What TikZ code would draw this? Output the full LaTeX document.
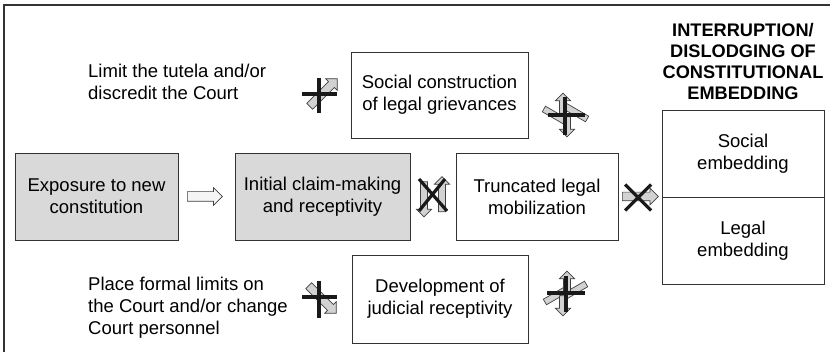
\documentclass[tikz,border=0pt]{standalone}
\usepackage{fontspec}
\setmainfont{Liberation Sans}
\usetikzlibrary{shapes.arrows,positioning}

\tikzset{
  box/.style={draw=black!80, line width=0.9pt, outer sep=0pt, minimum width=#1, minimum height=87pt, align=center, inner sep=2pt},
  box/.default=165pt,
  shaded/.style={fill=gray!30},
  fat/.style={single arrow, draw=black!75, fill=gray!35, line width=0.7pt, inner xsep=0pt, inner ysep=3.2pt, single arrow head extend=4pt},
  band/.style={rectangle, draw=black!75, fill=gray!35, line width=0.7pt, inner sep=0pt, minimum height=6.4pt},
  veto/.style={line width=3.2pt, black!90},
  lbl/.style={align=left, anchor=west, inner sep=0pt}
}

\begin{document}
\begin{tikzpicture}[x=1pt,y=-1pt,font=\fontsize{18.5}{22}\selectfont]
                \useasboundingbox (0,0) rectangle (830,352);
                \draw[black!80, line width=1.2pt] (830,5) -| (4,352);
                \node[box=163pt, shaded] (exp) at (96.5,196.5) {Exposure to new\\constitution};
                \node[box=175pt, shaded] (init) at (322.5,196.5) {Initial claim-making\\and receptivity};
                \node[box=162pt] (trunc) at (537,196.5) {Truncated legal\\mobilization};
                \node[box=177pt, minimum height=86pt] (soc) at (439.5,95) {Social construction\\of legal grievances};
                \node[box=176pt, minimum height=88pt] (jud) at (440,299) {Development of\\judicial receptivity};
                \node[box=162pt] (semb) at (743,153.5) {Social\\embedding};
                \node[box=162pt, below=0pt of semb] (lemb) {Legal\\embedding};
                \node[font=\bfseries\fontsize{18.2}{21}\selectfont, align=center] (head) at (743,61.5) {INTERRUPTION/\\DISLODGING OF\\CONSTITUTIONAL\\EMBEDDING};
                \node[lbl] (lim) at (88,82) {Limit the tutela and/or\\discredit the Court};
                \node[lbl] (plc) at (88,308) {Place formal limits on\\the Court and/or change\\Court personnel};
                \node[fat, fill=gray!8, minimum height=35pt, inner ysep=4.5pt, right=9pt of exp] (e2i) {};
                \node[fat, minimum height=36pt, inner ysep=4pt, right=4pt of trunc] (t2e) {};
                \node[fat, rotate=-90, minimum height=35pt] (dn) at (424,197.5) {};
                \node[fat, rotate=90, minimum height=35pt] (up) at (442,196) {};
                \node[fat, rotate=45, minimum height=39pt, inner ysep=3.8pt] (tl) at (322,94) {};
                \node[fat, rotate=-45, minimum height=39pt, inner ysep=3.8pt] (bl) at (321,298) {};
                \node[band, minimum width=28pt, rotate=-30] (trb1) at (556,116) {};
                \node[band, minimum width=28pt, rotate=-30] (trb2) at (575,112) {};
                \node[fat, rotate=-90, minimum height=20pt] (tra1) at (567,125) {};
                \node[fat, rotate=90, minimum height=20pt] (tra2) at (563,105) {};
                \node[band, minimum width=28pt, rotate=30] (brb1) at (557,295) {};
                \node[band, minimum width=28pt, rotate=30] (brb2) at (574,291) {};
                \node[fat, rotate=90, minimum height=20pt] (bra1) at (567,283) {};
                \node[fat, rotate=-90, minimum height=20pt] (bra2) at (563,304) {};
                \draw[veto] ([shift={(-13,-12)}]t2e.center) -- ([shift={(13,14)}]t2e.center)
                            ([shift={(13,-12)}]t2e.center) -- ([shift={(-13,14)}]t2e.center);
                \draw[veto] (419,179) -- (447,211) (445,179) -- (419,211);
                \draw[veto] (302,94) -- (337,94) (319,78) -- (319,113);
                \draw[veto] (302,297) -- (337,297) (319,281) -- (319,318);
                \draw[veto] (548,115) -- (585,115) (565,97) -- (565,135);
                \draw[veto] (547,293) -- (585,293) (566,276) -- (566,312);
            \end{tikzpicture}
\end{document}
